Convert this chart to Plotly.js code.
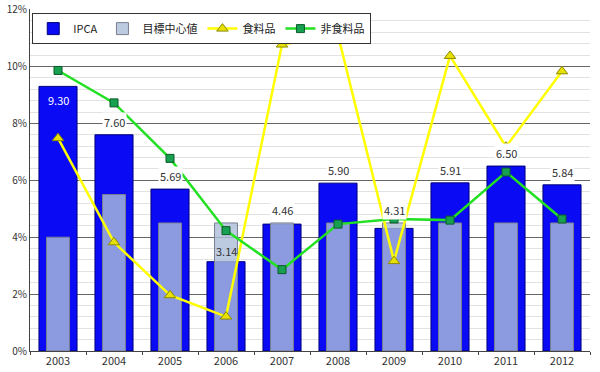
<!DOCTYPE html>
<html>
<head>
<meta charset="utf-8">
<script src="https://cdn.plot.ly/plotly-3.0.1.min.js"></script>
<style>html,body{margin:0;padding:0;background:#fff;}#chart{width:600px;height:372px;}</style>
</head>
<body>
<div id="chart"></div>
<script>
const years = ['2003','2004','2005','2006','2007','2008','2009','2010','2011','2012'];
const ipca = [9.30, 7.60, 5.69, 3.14, 4.46, 5.90, 4.31, 5.91, 6.50, 5.84];
const target = [4.0, 5.5, 4.5, 4.5, 4.5, 4.5, 4.5, 4.5, 4.5, 4.5];
const food = [7.48, 3.82, 1.96, 1.21, 10.77, 11.10, 3.16, 10.37, 7.18, 9.83];
const nonFood = [9.86, 8.72, 6.77, 4.23, 2.86, 4.46, 4.64, 4.60, 6.29, 4.64];
const yTicks = [0, 2, 4, 6, 8, 10, 12];
const yTickLabels = ['0%', '2%', '4%', '6%', '8%', '10%', '12%'];
const seriesNames = ['IPCA', '目標中心値', '食料品', '非食料品'];

const FONT = '"Noto Sans CJK JP", "DejaVu Sans", sans-serif';

const traces = [
  {
    type: 'bar', name: seriesNames[0], x: years, y: ipca, width: 0.68,
    marker: {color: '#0a0af5', line: {color: '#00007a', width: 1}}
  },
  {
    type: 'bar', name: seriesNames[1], x: years, y: target, width: 0.41,
    marker: {color: 'rgba(172,190,218,0.8)', line: {color: '#7a7f90', width: 1}}
  },
  {
    type: 'scatter', mode: 'lines+markers', name: seriesNames[2], x: years, y: food,
    line: {color: '#ffff00', width: 2.5},
    marker: {symbol: 'triangle-up', size: 10, color: '#e8e000', line: {color: '#8a8a00', width: 1}}
  },
  {
    type: 'scatter', mode: 'lines+markers', name: seriesNames[3], x: years, y: nonFood,
    line: {color: '#22e022', width: 2.5},
    marker: {symbol: 'square', size: 8, color: '#17a050', line: {color: '#0b5a2a', width: 1}}
  }
];

const annotations = ipca.map((v, i) => {
  const inside = v > 9;
  const gap = target[i] - v;
  const aboveTarget = gap > 0 && gap < 0.5;
  const overTarget = gap >= 0.5;
  return {
    x: i, y: aboveTarget ? target[i] : v, xref: 'x', yref: 'y',
    text: v.toFixed(2), showarrow: false,
    yanchor: inside ? 'top' : 'bottom',
    yshift: inside ? -4 : (overTarget ? 1 : 3),
    font: {family: FONT, size: 11, color: inside ? '#ffffff' : '#333333'},
    bgcolor: (inside || overTarget) ? 'rgba(0,0,0,0)' : '#ffffff',
    borderpad: 1
  };
});

const layout = {
  width: 600, height: 372,
  margin: {l: 30, r: 10, t: 9, b: 21},
  paper_bgcolor: '#ffffff', plot_bgcolor: '#ffffff',
  barmode: 'overlay',
  font: {family: FONT, size: 11, color: '#333'},
  showlegend: true,
  legend: {
    orientation: 'h', x: 0.004, y: 0.988, xanchor: 'left', yanchor: 'top',
    bgcolor: '#ffffff', bordercolor: '#333333', borderwidth: 1,
    font: {family: FONT, size: 11, color: '#222'},
    itemwidth: 30, traceorder: 'normal'
  },
  xaxis: {
    type: 'category', range: [-0.5, 9.5], showline: true, linecolor: '#444', linewidth: 1,
    ticks: 'outside', tickson: 'boundaries', ticklen: 3, tickcolor: '#444',
    tickfont: {family: FONT, size: 11, color: '#333'}, tickangle: 0,
    showgrid: false, fixedrange: true
  },
  yaxis: {
    range: [0, 12.02], tickmode: 'array', tickvals: yTicks, ticktext: yTickLabels,
    showline: true, linecolor: '#444', linewidth: 1,
    gridcolor: '#666', gridwidth: 1,
    minor: {tickmode: 'linear', tick0: 0, dtick: 0.4, showgrid: true, gridcolor: '#e2e2e2', gridwidth: 1},
    zeroline: false, ticklabeloverflow: 'allow',
    tickfont: {family: FONT, size: 10, color: '#333'},
    ticks: '', fixedrange: true
  },
  annotations: annotations
};

Plotly.newPlot('chart', traces, layout, {displayModeBar: false, staticPlot: true});
</script>
</body>
</html>
